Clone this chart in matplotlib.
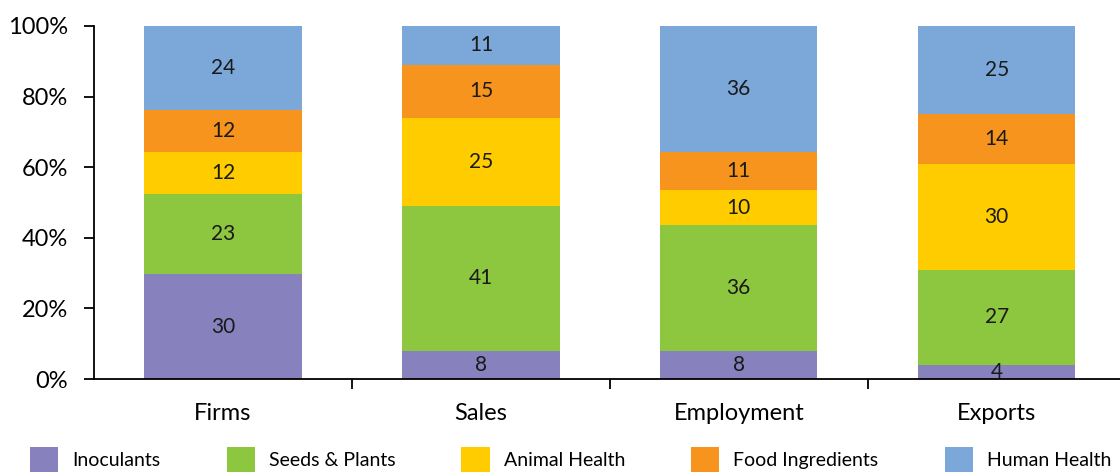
import matplotlib.pyplot as plt
import numpy as np

categories = ["Firms", "Sales", "Employment", "Exports"]
segments = ["Inoculants", "Seeds & Plants", "Animal Health", "Food Ingredients", "Human Health"]
inoculants = [30, 8, 8, 4]
seeds_plants = [23, 41, 36, 27]
animal_health = [12, 25, 10, 30]
food_ingredients = [12, 15, 11, 14]
human_health = [24, 11, 36, 25]

colors = ["#8781BD", "#8DC63F", "#FFCC00", "#F7941D", "#7BA7D9"]

plt.rcParams["font.family"] = ["Lato", "DejaVu Sans"]

values = np.array([inoculants, seeds_plants, animal_health, food_ingredients, human_health], dtype=float)
shares = values / values.sum(axis=0) * 100

fig = plt.figure(figsize=(11.2, 4.72), dpi=100)
ax = fig.add_axes([0.084, 0.197, 0.921, 0.748])

x = np.arange(len(categories))
bottom = np.zeros(len(categories))
for i, name in enumerate(segments):
    ax.bar(x, shares[i], 0.61, bottom=bottom, color=colors[i], label=name)
    for xi, b, h, v in zip(x, bottom, shares[i], values[i]):
        ax.text(xi, b + h / 2, "%d" % v, ha="center", va="center", fontsize=15, color="#1a1a1a")
    bottom += shares[i]

ax.set_xlim(-0.5, len(categories) - 0.5)
ax.set_ylim(0, 100)
ax.set_yticks(np.arange(0, 101, 20))
ax.set_yticklabels(["%d%%" % t for t in range(0, 101, 20)], fontsize=17)
ax.set_xticks(x)
ax.set_xticklabels(categories, fontsize=17)
ax.set_xticks(np.arange(0.5, len(categories) - 0.5, 1), minor=True)
ax.tick_params(axis="x", which="major", length=0, pad=17)
ax.tick_params(axis="x", which="minor", length=7, width=1.3, direction="out")
ax.tick_params(axis="y", length=7, width=1.3, direction="out", pad=12)
for side in ["top", "right"]:
    ax.spines[side].set_visible(False)
for side in ["left", "bottom"]:
    ax.spines[side].set_linewidth(1.3)

fig.legend(loc="lower left", bbox_to_anchor=(0.013, -0.033), ncol=5, frameon=False,
           fontsize=14, handlelength=1.45, handleheight=1.6, handletextpad=0.72,
           columnspacing=3.4, borderpad=0.3)

fig.savefig("out.png", dpi=100)
